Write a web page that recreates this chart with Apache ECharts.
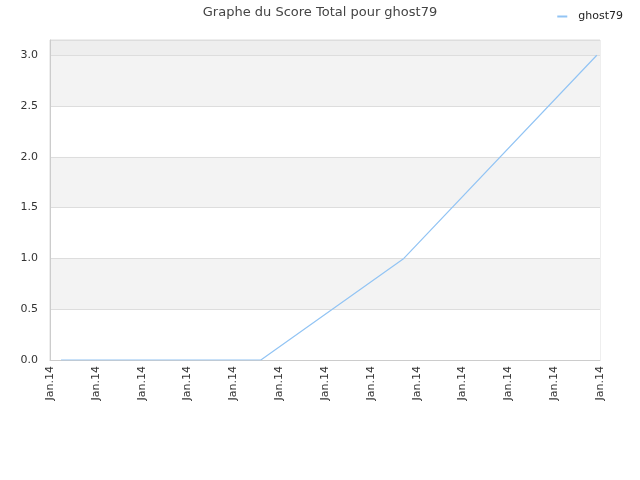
<!DOCTYPE html>
<html><head><meta charset="utf-8">
<script src="https://cdn.jsdelivr.net/npm/echarts@6/dist/echarts.min.js"></script>
<style>html,body{margin:0;padding:0;background:#fff}#c{width:640px;height:480px}</style>
</head><body><div id="c"></div>
<script>
var titleText = 'Graphe du Score Total pour ghost79';
var seriesName = 'ghost79';
var tickLabels = ['Jan.14','Jan.14','Jan.14','Jan.14','Jan.14','Jan.14','Jan.14','Jan.14','Jan.14','Jan.14','Jan.14','Jan.14','Jan.14'];
var xValues = [0.24, 4.60, 7.72, 11.93];
var yValues = [0, 0, 1.0, 3.0];

var data = xValues.map(function(x, i){ return [x, yValues[i]]; });
var chart = echarts.init(document.getElementById('c'));
chart.setOption({
  animation: false,
  textStyle: { fontFamily: 'DejaVu Sans' },
  title: { text: titleText, left: 'center', top: 1,
    textStyle: { fontSize: 13, fontWeight: 'normal', color: '#444', fontFamily: 'DejaVu Sans' } },
  legend: { right: 12, top: 6, icon: 'rect', itemWidth: 10, itemHeight: 2, itemGap: 5,
    textStyle: { fontSize: 11, color: '#222', padding: [0, 0, 0, 6] }, data: [seriesName] },
  grid: { left: 50, right: 40, top: 40, bottom: 120, show: true, borderColor: '#ddd', borderWidth: 1 },
  xAxis: { type: 'value', min: 0, max: 12, interval: 1,
    axisLine: { show: true, lineStyle: { color: '#ccc' } },
    axisTick: { show: false },
    splitLine: { show: false },
    axisLabel: { rotate: 90, fontSize: 11, color: '#333', margin: 6,
      formatter: function(v){ return tickLabels[Math.round(v)] || ''; } } },
  yAxis: { type: 'value', min: 0, max: 3.15, interval: 0.5,
    axisLine: { show: true, lineStyle: { color: '#ccc' } },
    axisTick: { show: false },
    axisLabel: { fontSize: 11, color: '#333', margin: 12, showMaxLabel: false,
      formatter: function(v){ return v.toFixed(1); } },
    splitLine: { show: true, lineStyle: { color: '#ddd' } },
    splitArea: { show: true, areaStyle: { color: ['#ffffff','#f3f3f3','#ffffff','#f3f3f3','#ffffff','#f3f3f3','#eeeeee'] } } },
  series: [{ name: seriesName, type: 'line', data: data, showSymbol: false,
    lineStyle: { color: '#92c4f4', width: 1.2 }, itemStyle: { color: '#92c4f4' } }]
});
</script></body></html>
